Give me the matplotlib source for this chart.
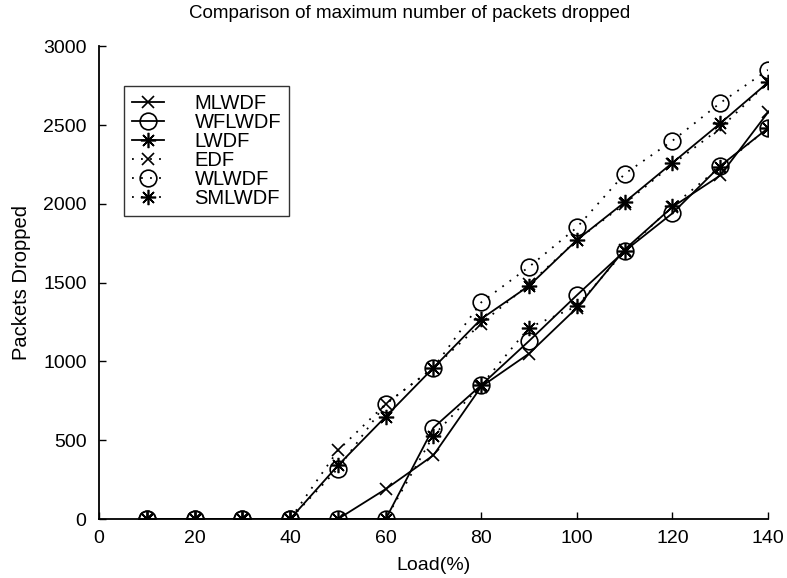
import matplotlib
matplotlib.use("Agg")
import matplotlib.pyplot as plt

plt.rcParams['font.family'] = ['Liberation Sans', 'DejaVu Sans']

load = [10, 20, 30, 40, 50, 60, 70, 80, 90, 100, 110, 120, 130, 140]
mlwdf = [0, 0, 0, 0, 0, 190, 405, 840, 1050, 1340, 1710, 1980, 2180, 2580]
wflwdf = [0, 0, 0, 0, 0, 0, 580, 850, 1130, 1420, 1700, 1940, 2240, 2480]
lwdf = [0, 0, 0, 0, 340, 650, 960, 1270, 1480, 1770, 2010, 2260, 2510, 2770]
edf = [0, 0, 0, 0, 435, 730, 960, 1240, 1490, 1770, 2000, 2250, 2480, 2770]
wlwdf = [0, 0, 0, 0, 320, 730, 960, 1375, 1600, 1850, 2190, 2400, 2640, 2850]
smlwdf = [0, 0, 0, 0, 0, 0, 530, 850, 1215, 1350, 1700, 1985, 2235, 2480]

fig = plt.figure(figsize=(7.87, 5.78), dpi=100)
ax = fig.add_axes([0.1258, 0.102, 0.850, 0.818])

ast = (8, 2, 0)
dot = (0, (1, 4))
kw = dict(color='black', linewidth=1.3, markersize=11, markerfacecolor='none', markeredgewidth=1.2)
ax.plot(load, mlwdf, '-', marker='x', label='MLWDF', **{**kw, 'markersize': 9})
ax.plot(load, wflwdf, '-', marker='o', label='WFLWDF', **{**kw, 'markersize': 12})
ax.plot(load, lwdf, '-', marker=ast, label='LWDF', **kw)
ax.plot(load, edf, linestyle=dot, marker='x', label='EDF', **{**kw, 'markersize': 9})
ax.plot(load, wlwdf, linestyle=dot, marker='o', label='WLWDF', **{**kw, 'markersize': 12})
ax.plot(load, smlwdf, linestyle=dot, marker=ast, label='SMLWDF', **kw)

ax.set_xlim(0, 140)
ax.set_ylim(0, 3000)
ax.set_xticks(range(0, 141, 20))
ax.set_yticks(range(0, 3001, 500))
for s in ['top', 'right']:
    ax.spines[s].set_visible(False)
for s in ['left', 'bottom']:
    ax.spines[s].set_linewidth(1.3)
ax.tick_params(direction='in', length=5, labelsize=14, width=1)
ax.tick_params(axis='x', pad=8)
ax.tick_params(axis='y', pad=9)
ax.set_xlabel('Load(%)', fontsize=14, labelpad=7)
ax.set_ylabel('Packets Dropped', fontsize=14.5, labelpad=9)
ax.set_title('Comparison of maximum number of packets dropped', fontsize=13.5,
             pad=20, x=0.465)

leg = ax.legend(loc='upper left', bbox_to_anchor=(0.0374, 0.9154), fontsize=14.5,
                frameon=True, fancybox=False, edgecolor='black', handlelength=1.6,
                labelspacing=0.0, borderpad=0.4, handletextpad=1.5,
                borderaxespad=0.0)
leg.get_frame().set_linewidth(1.0)

fig.savefig('out.png', dpi=100)
